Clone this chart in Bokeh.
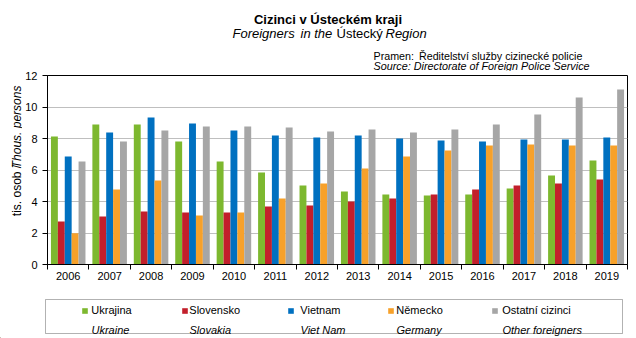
import math
from bokeh.plotting import figure
from bokeh.layouts import column, row
from bokeh.models import Range1d, FixedTicker, Label, Legend, LegendItem, BoxAnnotation
from bokeh.embed import file_html
from bokeh.resources import INLINE

# ---- data ----
years = ["2006", "2007", "2008", "2009", "2010", "2011", "2012",
         "2013", "2014", "2015", "2016", "2017", "2018", "2019"]
ukrajina = [8.13, 8.89, 8.89, 7.81, 6.54, 5.84, 5.02, 4.63, 4.44, 4.38, 4.44, 4.83, 5.65, 6.60]
slovensko = [2.73, 3.05, 3.37, 3.30, 3.30, 3.68, 3.75, 4.00, 4.19, 4.44, 4.76, 5.02, 5.14, 5.40]
vietnam = [6.86, 8.38, 9.33, 8.95, 8.51, 8.19, 8.06, 8.19, 8.00, 7.87, 7.81, 7.94, 7.94, 8.06]
nemecko = [1.99, 4.76, 5.33, 3.11, 3.30, 4.19, 5.14, 6.10, 6.86, 7.24, 7.56, 7.62, 7.56, 7.56]
ostatni = [6.54, 7.81, 8.51, 8.76, 8.76, 8.70, 8.44, 8.57, 8.38, 8.57, 8.89, 9.52, 10.60, 11.11]

series_cz = ["Ukrajina", "Slovensko", "Vietnam", "Německo", "Ostatní cizinci"]
series_en = ["Ukraine", "Slovakia", "Viet Nam", "Germany", "Other foreigners"]
series_vals = [ukrajina, slovensko, vietnam, nemecko, ostatni]
colors = ["#7DB82F", "#C21F2B", "#0070C0", "#F7A12A", "#A6A6A6"]
y_ticks = [0, 2, 4, 6, 8, 10, 12]

FONT = "Liberation Sans"
W = 636
TOP_H = 71          # title strip
MID_H = 219         # chart strip
BOT_H = 48          # legend strip
LEFT_W = 22         # y-title strip
FL, FR, FT, FB = 44, 627, 75, 264  # chart frame edges in page px


def blank(width, height):
    f = figure(width=width, height=height, output_backend="svg", toolbar_location=None,
               title=None, x_range=Range1d(0, width), y_range=Range1d(0, height),
               x_axis_type=None, y_axis_type=None, min_border=0)
    f.grid.visible = False
    f.outline_line_color = None
    f.background_fill_color = "white"
    f.border_fill_color = "white"
    return f


def lab(f, x0, y0, text, cx, cy, size="11px", style="normal", align="left",
        baseline="alphabetic", angle=0.0):
    # cx, cy: page pixel position; (x0, y0): page position of strip's top-left
    h = f.height
    f.add_layout(Label(x=cx - x0, y=h - (cy - y0), text=text, text_font=FONT,
                       text_font_size=size, text_font_style=style, text_align=align,
                       text_baseline=baseline, text_color="black", angle=angle))


# ---- title strip ----
top = blank(W, TOP_H)
lab(top, 0, 0, "Cizinci v Ústeckém kraji", 327.5, 18.5, "13px", "bold", "center")
lab(top, 0, 0, "Foreigners", 232, 33, "13px", "italic")
lab(top, 0, 0, "in the", 300, 33, "13px", "italic")
lab(top, 0, 0, "Ústecký", 336, 33, "13px", "normal")
lab(top, 0, 0, "Region", 385, 33, "13px", "italic")
lab(top, 0, 0, "Pramen:", 373, 55.5, "10.7px")
lab(top, 0, 0, "Ředitelství služby cizinecké policie", 418.5, 55.5, "10.7px")
lab(top, 0, 0, "Source: Directorate of Foreign Police Service", 373, 65.5, "10.8px", "italic")

# ---- y-title strip (rotated) ----
left = blank(LEFT_W, MID_H)
lab(left, 0, TOP_H, "tis. osob /", 16, 234, "12px", "normal", angle=math.pi / 2)
lab(left, 0, TOP_H, "Thous. persons", 16, 178.5, "12px", "italic", angle=math.pi / 2)

# ---- chart ----
p = figure(width=W - LEFT_W, height=MID_H, output_backend="svg", toolbar_location=None,
           title=None, x_range=Range1d(0, len(years)), y_range=Range1d(0, 12),
           min_border_left=FL - LEFT_W, min_border_right=W - FR,
           min_border_top=FT - TOP_H, min_border_bottom=TOP_H + MID_H - FB)
p.background_fill_color = "white"
p.border_fill_color = "white"
p.outline_line_color = "black"
p.outline_line_width = 1

bar_w = 1.0 / 6
for k, (vals, col) in enumerate(zip(series_vals, colors)):
    xs = [i + 0.5 + (k - 2) * bar_w for i in range(len(years))]
    p.vbar(x=xs, top=vals, width=bar_w, bottom=0, fill_color=col, line_color=None)

p.xgrid.visible = False
p.ygrid.grid_line_color = "#BFBFBF"
p.ygrid.grid_line_width = 1
p.ygrid.ticker = FixedTicker(ticks=y_ticks)

p.yaxis.ticker = FixedTicker(ticks=y_ticks)
p.yaxis.major_tick_out = 5
p.yaxis.major_tick_in = 0
p.yaxis.minor_tick_out = 0
p.yaxis.axis_line_color = "black"
p.yaxis.major_tick_line_color = "black"
p.yaxis.major_label_text_font = FONT
p.yaxis.major_label_text_font_size = "11px"
p.yaxis.major_label_text_color = "black"
p.yaxis.major_label_standoff = 5

centers = [i + 0.5 for i in range(len(years))]
p.xaxis.ticker = FixedTicker(ticks=centers, minor_ticks=list(range(len(years) + 1)))
p.xaxis.major_label_overrides = {c: y for c, y in zip(centers, years)}
p.xaxis.major_tick_out = 0
p.xaxis.major_tick_in = 0
p.xaxis.minor_tick_out = 5
p.xaxis.minor_tick_in = 0
p.xaxis.minor_tick_line_color = "black"
p.xaxis.axis_line_color = "black"
p.xaxis.major_label_text_font = FONT
p.xaxis.major_label_text_font_size = "11px"
p.xaxis.major_label_text_color = "black"
p.xaxis.major_label_standoff = 2

# ---- legend strip ----
bot = blank(W, BOT_H)
Y0 = TOP_H + MID_H
bot.add_layout(BoxAnnotation(left=45, right=622, top=BOT_H - (299 - Y0), bottom=BOT_H - (333 - Y0),
                             fill_alpha=0, line_color="black", line_width=1))
marker_x = [82, 182, 288, 388, 492]
text_x = [91, 189, 300, 396, 502]
GW = 7
for col, cz, en, mx, tx in zip(colors, series_cz, series_en, marker_x, text_x):
    # off-canvas proxy glyph that only supplies the legend key
    r = bot.vbar(x=[-1000], top=[1], bottom=[0], width=1, fill_color=col, line_color=None)
    lx = mx - 0.7
    leg = Legend(items=[LegendItem(label=cz, renderers=[r])],
                 location=(lx, 22), margin=0, padding=0, spacing=0,
                 glyph_width=GW, glyph_height=GW, label_height=12,
                 label_standoff=int(round(tx - lx - GW)),
                 label_text_font=FONT, label_text_font_size="11px",
                 label_text_color="black",
                 border_line_alpha=0, background_fill_alpha=0)
    bot.add_layout(leg)
    lab(bot, 0, Y0, en, tx, 329.3, "11px", "italic")

layout = column(top, row(left, p), bot)
open("out.html", "w").write(file_html(layout, INLINE))
